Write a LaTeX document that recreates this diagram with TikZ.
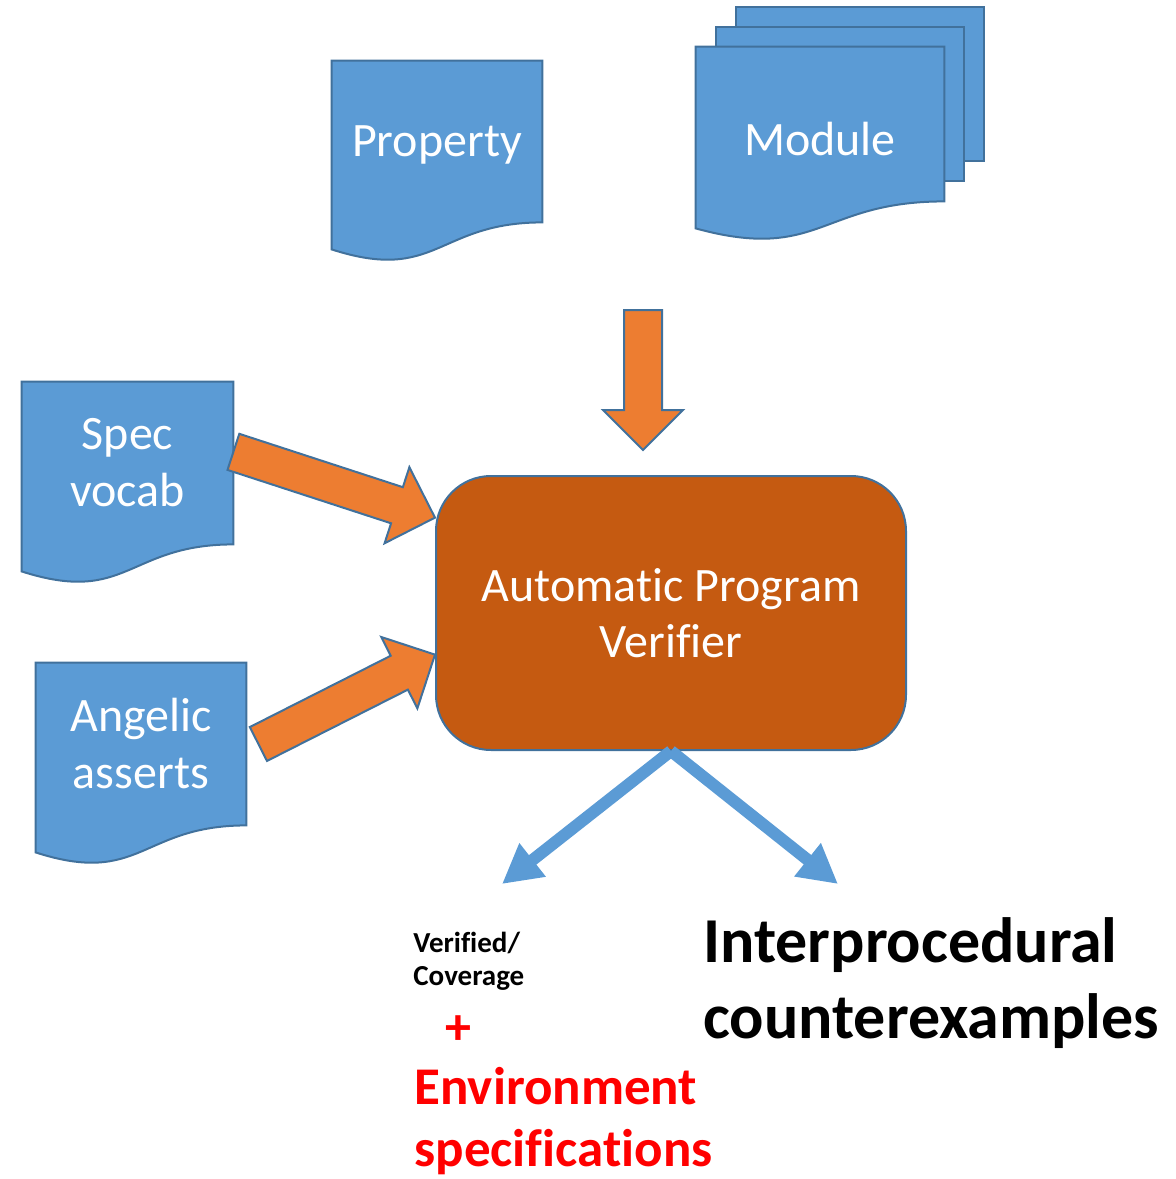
\documentclass[tikz,border=0pt]{standalone}
\usepackage{fontspec}
\setmainfont[Ligatures=NoCommon]{Carlito}
\usetikzlibrary{arrows.meta, calc, backgrounds}

\definecolor{docfill}{HTML}{5B9BD5}
\definecolor{docline}{HTML}{41719C}
\definecolor{feedorange}{HTML}{ED7D31}
\definecolor{verfill}{HTML}{C55A11}
\definecolor{resblue}{HTML}{5B9BD5}

\begin{document}
\begin{tikzpicture}[x=0.5pt, y=-0.5pt, >={Triangle[length=19.5pt, width=20pt]}]
    \tikzstyle{doc}=[rectangle, inner sep=0pt, minimum width=105pt, minimum height=80.5pt, text=white, align=center, font=\fontsize{24}{28.5}\selectfont]
    \tikzstyle{page}=[draw=docline, fill=docfill, line width=1pt]
    \tikzstyle{verifier}=[rectangle, rounded corners=27.5pt, minimum width=235pt, minimum height=137pt, draw=docline, fill=verfill, line width=1pt, text=white, align=center, font=\fontsize{24}{28}\selectfont]
    \tikzstyle{feed}=[draw=docline, fill=feedorange, line width=1pt, line join=miter,
        to path={($(\tikztostart)!9.5pt!90:(\tikztotarget)$)
            -- ($(\tikztotarget)!20pt!(\tikztostart)!9.5pt!-90:(\tikztostart)$)
            -- ($(\tikztotarget)!20pt!(\tikztostart)!20pt!-90:(\tikztostart)$)
            -- (\tikztotarget)
            -- ($(\tikztotarget)!20pt!(\tikztostart)!20pt!90:(\tikztostart)$)
            -- ($(\tikztotarget)!20pt!(\tikztostart)!9.5pt!90:(\tikztostart)$)
            -- ($(\tikztostart)!9.5pt!-90:(\tikztotarget)$) -- cycle}]
    \tikzstyle{result}=[->, draw=resblue, line width=6pt]

    \useasboundingbox (0,0) rectangle (1175,1179);

    \node[doc, text depth=0pt] (prop) at (437,141.5) {Property};
    \node[doc, minimum width=124pt, minimum height=77pt, text height=32pt] (mod) at (820,124) {Module};
    \node[doc, minimum width=105.5pt, minimum height=81pt] (spec) at (127.5,463) {Spec\\vocab};
    \node[doc, minimum height=81pt] (ang) at (141,744) {Angelic\\asserts};
    \node[verifier] (ver) at (671,613) {Automatic Program\\Verifier};

    % paper outlines behind the labels
    \begin{pgfonlayer}{background}
      \foreach \s in {20pt,10pt}
        \draw[page] ([shift={(\s,\s)}]mod.south west) rectangle ([shift={(\s,\s)}]mod.north east);
      \foreach \n in {prop,mod,spec,ang}
        \draw[page] (\n.north west) -- (\n.north east) -- (\n.south east)
          .. controls (\n.south) and ([yshift=-30.5pt]\n.south) .. ([yshift=-13.5pt]\n.south west) -- cycle;
    \end{pgfonlayer}

    \coordinate (modfeed) at (643,310);
    \coordinate (modtip) at (643,450);
    \draw[feed] (modfeed) to (modtip);
    \draw[feed] (spec.6) to (ver.158);
    \draw[feed] ([xshift=6pt]ang.east) to (ver.190);

    \coordinate (okend) at (502,884);
    \coordinate (cexend) at (838,884);
    \draw[result] (ver.south) -- (okend);
    \draw[result] (ver.south) -- (cexend);

    \node[anchor=base west, inner sep=0pt, align=left, font=\bfseries\fontsize{14.5}{16.5}\selectfont] (ok) at (413,985) {Verified/\\Coverage};
    \node[inner sep=0pt, text=red, font=\bfseries\fontsize{26}{30}\selectfont] (plus) at (458,1030) {+};
    \node[anchor=base west, inner sep=0pt, align=left, text=red, font=\bfseries\fontsize{26.5}{31}\selectfont] (env) at (414,1166) {Environment\\specifications};
    \node[anchor=base west, inner sep=0pt, align=left, font=\bfseries\fontsize{32}{38}\selectfont] (cex) at (703,1038) {Interprocedural\\counterexamples};
\end{tikzpicture}
\end{document}
